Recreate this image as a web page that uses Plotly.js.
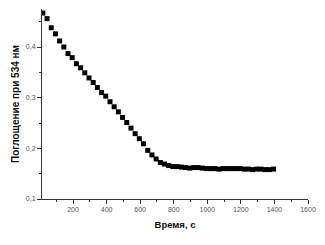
<!DOCTYPE html>
<html>
<head>
<meta charset="utf-8">
<script src="https://cdn.plot.ly/plotly-3.0.1.min.js"></script>
<style>html,body{margin:0;padding:0;background:#fff;}#chart{width:325px;height:245px;}</style>
</head>
<body>
<div id="chart"></div>
<script>
var timeSec = [20,45,70,95,120,145,170,195,220,245,270,295,320,345,370,395,420,445,470,495,520,545,570,595,620,645,670,695,720,745,770,795,820,845,870,895,920,945,970,995,1020,1045,1070,1095,1120,1145,1170,1195,1220,1245,1270,1295,1320,1345,1370,1395];
var absorbance = [0.467,0.456,0.438,0.426,0.412,0.400,0.387,0.379,0.367,0.359,0.349,0.339,0.330,0.320,0.310,0.303,0.292,0.282,0.272,0.261,0.251,0.240,0.229,0.219,0.209,0.196,0.187,0.179,0.172,0.169,0.166,0.164,0.164,0.163,0.162,0.161,0.162,0.162,0.161,0.160,0.160,0.160,0.159,0.160,0.160,0.160,0.160,0.160,0.159,0.159,0.158,0.159,0.159,0.158,0.158,0.159];
var xTitle = 'Время, с';
var yTitle = 'Поглощение при 534 нм';

var trace = {
  x: timeSec, y: absorbance, type: 'scatter', mode: 'markers',
  marker: {symbol: 'square', size: 5, color: '#000'},
  hoverinfo: 'skip'
};
var axisCommon = {
  showgrid: false, zeroline: false, showline: true, linecolor: '#333', linewidth: 1,
  ticks: 'outside', ticklen: 4, tickcolor: '#333', tickwidth: 1,
  tickfont: {family: 'Liberation Sans, Arial, sans-serif', size: 7, color: '#555'},
  mirror: false
};
var layout = {
  width: 325, height: 245,
  margin: {l: 42, r: 17, t: 9, b: 46},
  paper_bgcolor: '#fff', plot_bgcolor: '#fff',
  separators: ', ',
  showlegend: false,
  xaxis: Object.assign({}, axisCommon, {
    range: [15, 1600], tick0: 0, dtick: 200,
    minor: {dtick: 100, tick0: 0, ticks: 'outside', ticklen: 2, tickcolor: '#333'},
    title: {text: xTitle, standoff: 8, font: {family: 'Liberation Sans, Arial, sans-serif', size: 9.5, color: '#111', weight: 'bold'}}
  }),
  yaxis: Object.assign({}, axisCommon, {
    range: [0.1, 0.475], tick0: 0.1, dtick: 0.1, tickformat: '.1f',
    minor: {dtick: 0.05, tick0: 0.1, ticks: 'outside', ticklen: 2, tickcolor: '#333'},
    title: {text: yTitle, standoff: 4, font: {family: 'Liberation Sans, Arial, sans-serif', size: 10, color: '#111', weight: 'bold'}}
  })
};
Plotly.newPlot('chart', [trace], layout, {staticPlot: true, displayModeBar: false});
</script>
</body>
</html>
